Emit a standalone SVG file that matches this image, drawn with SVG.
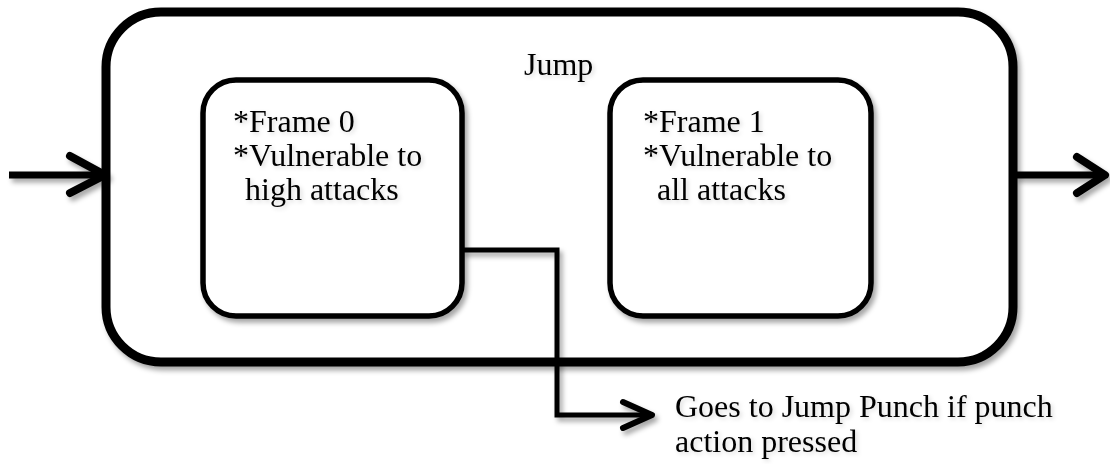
<svg xmlns="http://www.w3.org/2000/svg" width="1110" height="464" viewBox="0 0 1110 464">
  <defs>
    <filter id="sh" x="-10%" y="-10%" width="130%" height="130%">
      <feDropShadow dx="3" dy="4" stdDeviation="2.5" flood-color="#000" flood-opacity="0.35"/>
    </filter>
    <filter id="tsh" x="-10%" y="-20%" width="130%" height="150%">
      <feDropShadow dx="2" dy="2" stdDeviation="2" flood-color="#000" flood-opacity="0.15"/>
    </filter>
  </defs>
  <style>
    .box { fill: #fff; stroke: #000; }
    .lbl { font-family: "Liberation Serif", "Times New Roman", serif; font-size: 32px; fill: #000; }
    .ln { fill: none; stroke: #000; stroke-linejoin: miter; }
    .head { fill: none; stroke: #000; stroke-linecap: round; stroke-linejoin: round; }
  </style>
  <rect width="1110" height="464" fill="#fff"/>

  <g id="jump" filter="url(#sh)">
    <rect class="box" x="106" y="12" width="907" height="350" rx="55" ry="55" stroke-width="9"/>
  </g>
  <text class="lbl" x="524" y="75" filter="url(#tsh)">Jump</text>

  <g id="frame0">
    <rect class="box" x="203" y="80" width="259" height="236" rx="33" ry="33" stroke-width="5.5" filter="url(#sh)"/>
    <g filter="url(#tsh)">
      <text class="lbl" x="233" y="132">*Frame 0</text>
      <text class="lbl" x="233" y="166">*Vulnerable to</text>
      <text class="lbl" x="245" y="200">high attacks</text>
    </g>
  </g>

  <g id="frame1">
    <rect class="box" x="610" y="80" width="261" height="236" rx="33" ry="33" stroke-width="5.5" filter="url(#sh)"/>
    <g filter="url(#tsh)">
      <text class="lbl" x="643" y="132">*Frame 1</text>
      <text class="lbl" x="643" y="166">*Vulnerable to</text>
      <text class="lbl" x="657" y="200">all attacks</text>
    </g>
  </g>

  <g id="connectors" filter="url(#sh)">
    <line class="ln" x1="9" y1="175" x2="104" y2="175" stroke-width="7"/>
    <polyline class="head" points="70,156 105,175 70,193" stroke-width="8"/>
    <line class="ln" x1="1015" y1="175" x2="1104" y2="175" stroke-width="7"/>
    <polyline class="head" points="1077,157 1105,175 1077,193" stroke-width="8"/>
    <polyline class="ln" points="462,250 557,250 557,415 650,415" stroke-width="5"/>
    <polyline class="head" points="623,402 652,415 623,428" stroke-width="6"/>
  </g>

  <g id="note" filter="url(#tsh)">
    <text class="lbl" x="675" y="417">Goes to Jump Punch if punch</text>
    <text class="lbl" x="675" y="452">action pressed</text>
  </g>
</svg>
